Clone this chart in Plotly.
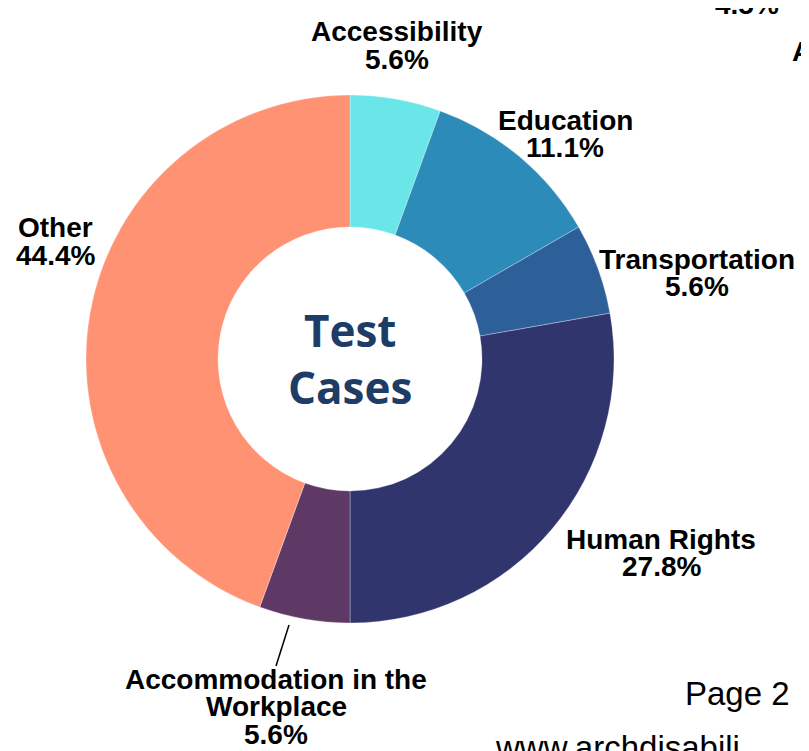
import plotly.graph_objects as go

# ---- data ----
categories = ["Accessibility", "Education", "Transportation", "Human Rights",
              "Accommodation in the Workplace", "Other"]
case_counts = [1, 2, 1, 5, 1, 8]
slice_colors = ["#6AE5E8", "#2D8BBA", "#2D5F98", "#31356E", "#5F3966", "#FE9272"]

# label display text (line breaks) and pixel anchor (center x, first line y)
label_lines = {
    "Accessibility": ["Accessibility"],
    "Education": ["Education"],
    "Transportation": ["Transportation"],
    "Human Rights": ["Human Rights"],
    "Accommodation in the Workplace": ["Accommodation in the", "Workplace"],
    "Other": ["Other"],
}
label_pos = {
    "Accessibility": (397, 32),
    "Education": (565, 120),
    "Transportation": (697, 259),
    "Human Rights": (661, 539),
    "Accommodation in the Workplace": (276, 679),
    "Other": (55, 228),
}

W, H = 809, 751
OFF = 8  # page body margin
cx, cy, R = 350, 359, 264

total = sum(case_counts)


def px2paper(x, y):
    return (x - OFF) / W, 1 - (y - OFF) / H


fig = go.Figure()
dx0, dy1 = px2paper(cx - R, cy - R)
dx1, dy0 = px2paper(cx + R, cy + R)
fig.add_trace(go.Pie(
    labels=categories,
    values=case_counts,
    hole=0.5,
    sort=False,
    direction="clockwise",
    rotation=0,
    marker=dict(colors=slice_colors, line=dict(color="rgba(255,255,255,0.5)", width=0.6)),
    textinfo="none",
    hoverinfo="label+percent",
    showlegend=False,
    domain=dict(x=[dx0, dx1], y=[dy0, dy1]),
))

annotations = []
LINE = 27.5
for cat, val in zip(categories, case_counts):
    pct = f"{100 * val / total:.1f}%"
    lines = label_lines[cat] + [pct]
    x0, y0 = label_pos[cat]
    for i, t in enumerate(lines):
        ax, ay = px2paper(x0, y0 + i * LINE)
        annotations.append(dict(
            x=ax, y=ay, xref="paper", yref="paper", text=f"<b>{t}</b>",
            showarrow=False, xanchor="center", yanchor="middle",
            font=dict(family="Liberation Sans, Arial", size=28, color="#000000"),
        ))

# center title
tx, ty = px2paper(cx, 359)
annotations.append(dict(
    x=tx, y=ty, xref="paper", yref="paper", text="<b>Test<br>Cases</b>",
    showarrow=False, xanchor="center", yanchor="middle",
    font=dict(family="Open Sans", size=44, color="#1D3C66"),
))

# fragments of surrounding page
for txt, (x, y), bold, size, xa in [
    ("4.5%", (747, 4), True, 28, "center"),
    ("A", (790, 52), True, 28, "left"),
    ("Page 2", (683, 693), False, 33, "left"),
    ("www.archdisabili", (493, 747), False, 33, "left"),
]:
    ax, ay = px2paper(x, y)
    annotations.append(dict(
        x=ax, y=ay, xref="paper", yref="paper",
        text=(f"<b>{txt}</b>" if bold else txt),
        showarrow=False, xanchor=xa, yanchor="middle",
        font=dict(family="Liberation Sans, Arial", size=size, color="#000000"),
    ))

# leader line for Accommodation label
lx0, ly0 = px2paper(289, 625)
lx1, ly1 = px2paper(276, 666)
shapes = [dict(type="line", xref="paper", yref="paper", x0=lx0, y0=ly0, x1=lx1, y1=ly1,
               line=dict(color="#000000", width=1.5))]

fig.update_layout(
    width=W, height=H,
    margin=dict(l=0, r=0, t=0, b=0),
    paper_bgcolor="#FFFFFF", plot_bgcolor="#FFFFFF",
    annotations=annotations, shapes=shapes,
)

fig.write_html("out.html")
